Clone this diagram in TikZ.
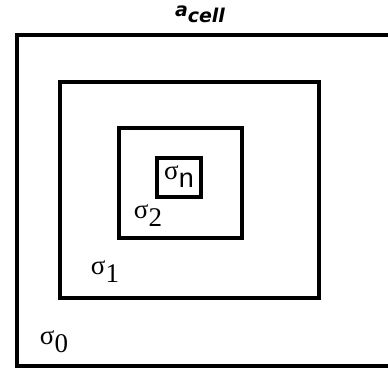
\documentclass[tikz,border=0pt]{standalone}
\usepackage{fontspec}
\setmainfont{Liberation Serif}
\setsansfont{Liberation Sans}
\newfontfamily\titlefont{DejaVu Sans}
\usetikzlibrary{positioning}
\newcommand{\sig}[1]{σ\raisebox{-8pt}{#1}}

\begin{document}
\begin{tikzpicture}[
  x=1pt,y=-1pt,
  region/.style={draw=black,line width=4pt,inner sep=0pt,anchor=center},
  lbl/.style={font=\fontsize{27}{27}\selectfont,inner sep=0pt,anchor=center},
  title/.style={font=\titlefont\bfseries\itshape\fontsize{19}{19}\selectfont,inner sep=0pt}
]
\useasboundingbox (0,0) rectangle (388,373);
\clip (0,0) rectangle (388,373);

\node[region,minimum width=378pt,minimum height=331pt] (s0) at (206,200) {};
\node[region,minimum width=259pt,minimum height=215.5pt] (s1) at (189,189.75) {};
\node[region,minimum width=123pt,minimum height=110pt] (s2) at (180,182.5) {};
\node[region,minimum width=43.5pt,minimum height=39pt] (sn) at (178.75,177.5) {};

\node[title] (cell) at (200,14) {a\raisebox{-6pt}{cell}};
\node[lbl] (l0) at (54,342) {\sig{0}};
\node[lbl] (l1) at (105,272) {\sig{1}};
\node[lbl] (l2) at (148,216) {\sig{2}};
\node[lbl] (ln) at (179,177) {\sig{\sffamily n}};

\end{tikzpicture}
\end{document}
